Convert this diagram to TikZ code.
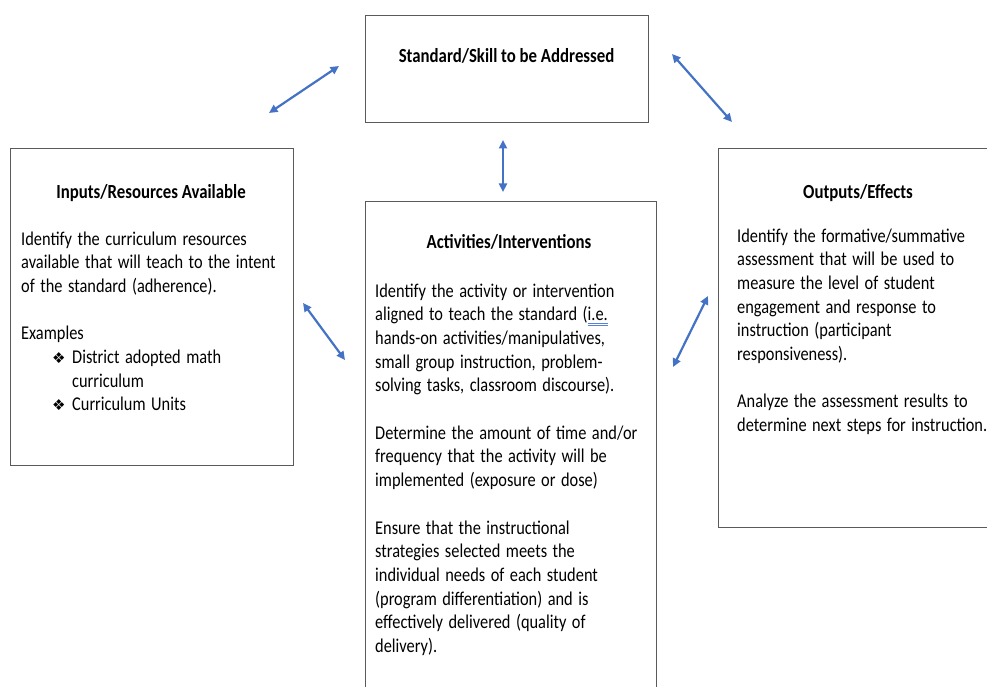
\documentclass[tikz,border=0pt]{standalone}
\usepackage{fontspec}
\setmainfont[FakeStretch=0.84]{Carlito}
\newfontfamily\dejavu{DejaVu Sans}
\usetikzlibrary{arrows.meta}
\definecolor{arrblue}{HTML}{4472C4}
\definecolor{boxgray}{HTML}{5A5A5A}
\definecolor{txtc}{HTML}{000000}
\definecolor{ulblue}{HTML}{5B7FD6}
\newcommand\bul{{\dejavu\fontsize{15}{15}\selectfont\raisebox{0.5pt}{\symbol{"2756}}}}
\newcommand\ieul[1]{\setbox0\hbox{#1}\rlap{\color{ulblue}\rule[-2.6pt]{\wd0}{0.7pt}}\rlap{\color{ulblue}\rule[-4.4pt]{\wd0}{0.6pt}}\box0}
\tikzset{
  box/.style={draw=boxgray, line width=1pt, anchor=north west, inner sep=0pt},
  ttl/.style={anchor=base, inner sep=0pt, text=txtc, font=\fontsize{20}{23}\selectfont\bfseries},
  body/.style={anchor=base west, inner sep=0pt, text width=300pt, align=left, text=txtc, font=\fontsize{19.5}{23.7}\selectfont,
    execute at begin node={\spaceskip=5.5pt plus 0.5pt minus 0.5pt\relax}},
  conn/.style={draw=arrblue, line width=2.2pt, arrows={Triangle[length=8.5pt,width=8pt]-Triangle[length=8.5pt,width=8pt]}}
}
\begin{document}
\begin{tikzpicture}[x=1pt,y=-1pt]
\useasboundingbox (0,0) rectangle (987,687);
\clip (0,0) rectangle (987,687);
% boxes
\node[box, minimum width=283pt, minimum height=107pt] (std) at (365,15) {};
\node[box, minimum width=283pt, minimum height=317pt] (inp) at (10,148) {};
\node[box, minimum width=291pt, minimum height=510pt] (act) at (365,201) {};
\node[box, minimum width=290pt, minimum height=379pt] (out) at (718,148) {};
% titles
\node[ttl] (stdT) at (506.5,63) {Standard/Skill to be Addressed};
\node[ttl] (inpT) at (151,198) {Inputs/Resources Available};
\node[ttl] (actT) at (509,248) {Activities/Interventions};
\node[ttl] (outT) at (858,198) {Outputs/Effects};
% bodies
\node[body] (inpB) at (21,245) {Identify the curriculum resources\\
available that will teach to the intent\\
of the standard (adherence).\\[23.7pt]
Examples\\
\hspace*{31pt}\makebox[20pt][l]{\bul}District adopted math\\
\hspace*{51pt}curriculum\\
\hspace*{31pt}\makebox[20pt][l]{\bul}Curriculum Units};
\node[body] (actB) at (375,297) {Identify the activity or intervention\\
aligned to teach the standard (\ieul{i.e.}\\
hands-on activities/manipulatives,\\
small group instruction, problem-\\
solving tasks, classroom discourse).\\[23.7pt]
Determine the amount of time and/or\\
frequency that the activity will be\\
implemented (exposure or dose)\\[23.7pt]
Ensure that the instructional\\
strategies selected meets the\\
individual needs of each student\\
(program differentiation) and is\\
effectively delivered (quality of\\
delivery).};
\node[body] (outB) at (737,242) {Identify the formative/summative\\
assessment that will be used to\\
measure the level of student\\
engagement and response to\\
instruction (participant\\
responsiveness).\\[23.7pt]
Analyze the assessment results to\\
determine next steps for instruction.};
% arrow ends
\coordinate (a1s) at (269,113); \coordinate (a1e) at (339,66);
\coordinate (a2s) at (672,54);  \coordinate (a2e) at (732,122);
\coordinate (a3s) at (503,140); \coordinate (a3e) at (503,192);
\coordinate (a4s) at (303,303); \coordinate (a4e) at (345,360);
\coordinate (a5s) at (673,367); \coordinate (a5e) at (708,296);
\draw[conn] (a1s) -- (a1e);
\draw[conn] (a2s) -- (a2e);
\draw[conn] (a3s) -- (a3e);
\draw[conn] (a4s) -- (a4e);
\draw[conn] (a5s) -- (a5e);
\end{tikzpicture}
\end{document}
